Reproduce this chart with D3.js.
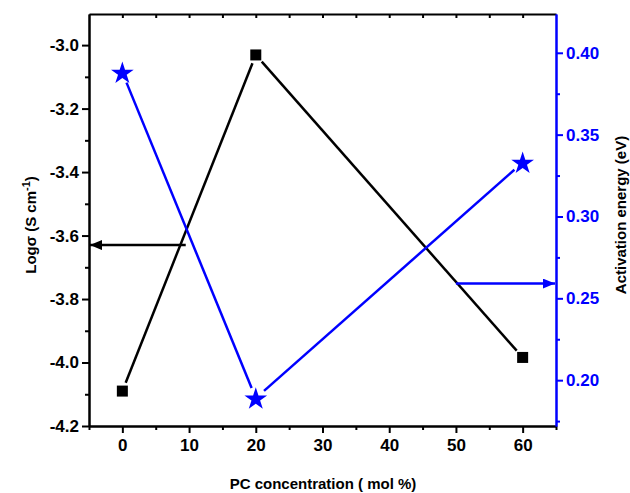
<!DOCTYPE html>
<html><head><meta charset="utf-8">
<script src="https://cdn.jsdelivr.net/npm/d3@7"></script>
<style>body{margin:0;background:#fff}text{font-family:"Liberation Sans",Arial,sans-serif;font-weight:bold}</style>
</head><body><svg id="c" width="630" height="493"></svg>
<script>
const pcConc = [0, 20, 60];
const logSigma = [-4.09, -3.031, -3.984];
const activationEnergy = [0.388, 0.189, 0.333];
const xTicks = [0, 10, 20, 30, 40, 50, 60];
const leftTicks = [-3.0, -3.2, -3.4, -3.6, -3.8, -4.0, -4.2];
const rightTicks = [0.20, 0.25, 0.30, 0.35, 0.40];
const leftArrow = {x0: 9.5, x1: -5, y: -3.63};
const rightArrow = {x0: 50, x1: 65, y: 0.259};

const svg = d3.select("#c");
const L = 89, R = 556, T = 14, B = 426;
const x = d3.scaleLinear().domain([-5, 65]).range([L, R]);
const yL = d3.scaleLinear().domain([-4.2, -2.902]).range([B, T]);
const yR = d3.scaleLinear().domain([0.172, 0.4237]).range([B, T]);
const blue = "#0000ff";

svg.append("defs").html(
 '<marker id="ab" viewBox="0 0 12 10" refX="12" refY="5" markerWidth="12" markerHeight="10" orient="auto" markerUnits="userSpaceOnUse"><path d="M0,0L12,5L0,10z" fill="#000"/></marker>'+
 '<marker id="abl" viewBox="0 0 12 10" refX="12" refY="5" markerWidth="12" markerHeight="10" orient="auto" markerUnits="userSpaceOnUse"><path d="M0,0L12,5L0,10z" fill="'+blue+'"/></marker>');

function axisStyle(g, col){
  g.selectAll(".domain").attr("stroke", col).attr("stroke-width", 2);
  g.selectAll(".tick line").attr("stroke", col).attr("stroke-width", 2);
  g.selectAll(".tick text").attr("fill", col).style("font-size","17px").style("font-family","Liberation Sans, Arial").style("font-weight","bold");
}
const fmt1 = d => d3.format(".1f")(d).replace("\u2212","-");
const fmt2 = d => d3.format(".2f")(d);
const minorX = d3.range(-5, 66, 5).filter(v => v % 10 !== 0);
svg.append("g").attr("transform",`translate(0,${B})`).call(d3.axisBottom(x).tickValues(minorX).tickSize(4).tickFormat("").tickSizeOuter(0)).call(g=>axisStyle(g,"#000"));
svg.append("g").attr("transform",`translate(0,${B})`).call(d3.axisBottom(x).tickValues(xTicks).tickSize(7).tickPadding(6).tickSizeOuter(0)).call(g=>axisStyle(g,"#000"));
svg.append("g").attr("transform",`translate(0,${T})`).call(d3.axisBottom(x).tickValues(d3.range(-5,66,5).filter(v=>v>-5&&v<65)).tickSize(4).tickFormat("").tickSizeOuter(0)).call(g=>axisStyle(g,"#000"));
const minorL = [-3.1,-3.3,-3.5,-3.7,-3.9,-4.1];
svg.append("g").attr("transform",`translate(${L},0)`).call(d3.axisLeft(yL).tickValues(minorL).tickSize(4).tickFormat("").tickSizeOuter(0)).call(g=>axisStyle(g,"#000"));
svg.append("g").attr("transform",`translate(${L},0)`).call(d3.axisLeft(yL).tickValues(leftTicks).tickSize(7).tickPadding(3).tickFormat(fmt1).tickSizeOuter(0)).call(g=>axisStyle(g,"#000"));
const minorR = [0.175,0.225,0.275,0.325,0.375];
svg.append("g").attr("transform",`translate(${R},0)`).call(d3.axisRight(yR).tickValues(minorR).tickSize(4).tickFormat("").tickSizeOuter(0)).call(g=>axisStyle(g,blue));
svg.append("g").attr("transform",`translate(${R},0)`).call(d3.axisRight(yR).tickValues(rightTicks).tickSize(7).tickPadding(3).tickFormat(fmt2).tickSizeOuter(0)).call(g=>axisStyle(g,blue));

function segs(xs, ys, ysc, col, gap){
  for(let i=0;i<xs.length-1;i++){
    const x0=x(xs[i]), y0=ysc(ys[i]), x1=x(xs[i+1]), y1=ysc(ys[i+1]);
    const dx=x1-x0, dy=y1-y0, len=Math.hypot(dx,dy), ux=dx/len, uy=dy/len;
    svg.append("line").attr("x1",x0+ux*gap).attr("y1",y0+uy*gap).attr("x2",x1-ux*gap).attr("y2",y1-uy*gap)
      .attr("stroke",col).attr("stroke-width",2.5);
  }
}
segs(pcConc, logSigma, yL, "#000", 9);
segs(pcConc, activationEnergy, yR, blue, 11);

svg.selectAll(".sq").data(pcConc).enter().append("rect")
  .attr("x",(d)=>x(d)-5.5).attr("y",(d,i)=>yL(logSigma[i])-5.5).attr("width",11).attr("height",11).attr("fill","#000");
const star = d3.symbol().type(d3.symbolStar).size(160);
svg.selectAll(".st").data(pcConc).enter().append("path")
  .attr("d",star).attr("fill",blue)
  .attr("transform",(d,i)=>`translate(${x(d)},${yR(activationEnergy[i])+1})`);

svg.append("line").attr("x1",x(leftArrow.x0)).attr("x2",x(leftArrow.x1)+1).attr("y1",yL(leftArrow.y)).attr("y2",yL(leftArrow.y))
  .attr("stroke","#000").attr("stroke-width",2.5).attr("marker-end","url(#ab)");
svg.append("line").attr("x1",x(rightArrow.x0)).attr("x2",x(rightArrow.x1)-1).attr("y1",yR(rightArrow.y)).attr("y2",yR(rightArrow.y))
  .attr("stroke",blue).attr("stroke-width",2.5).attr("marker-end","url(#abl)");

svg.append("text").attr("x",323).attr("y",489).attr("text-anchor","middle").style("font-size","15px").text("PC concentration ( mol %)");
const lt = svg.append("text").attr("transform","translate(36,225) rotate(-90)").attr("text-anchor","middle").style("font-size","15px");
lt.append("tspan").text("Logσ (S cm");
lt.append("tspan").attr("dy",-6).style("font-size","11px").text("-1");
lt.append("tspan").attr("dy",6).text(")");
svg.append("text").attr("transform","translate(626,215) rotate(-90)").attr("text-anchor","middle").style("font-size","15px").text("Activation energy (eV)");
</script></body></html>
